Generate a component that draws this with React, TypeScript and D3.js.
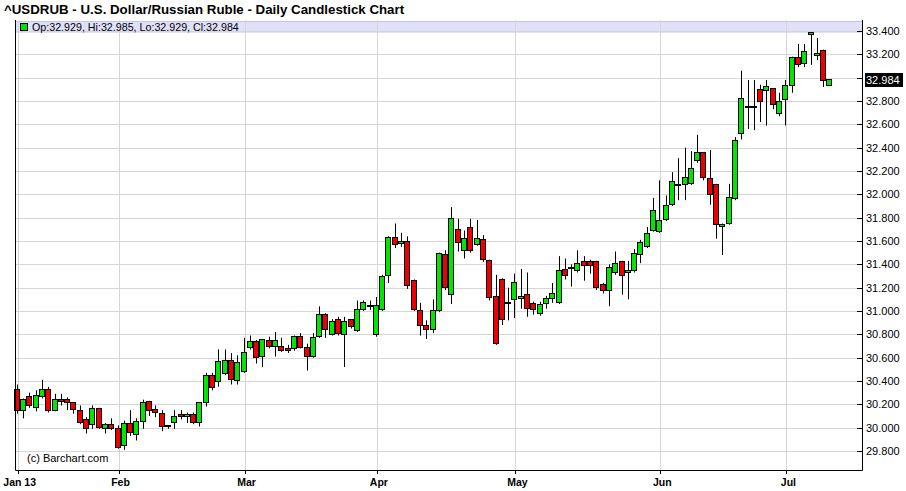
import React, { useEffect, useRef } from 'react'
import * as d3 from 'd3'

// daily OHLC, Jan 10 2013 .. Jul 10 2013 (trading days only)
const opens = [
  30.32, 30.15, 30.26, 30.17, 30.26, 30.32, 30.15, 30.24, 30.24, 30.21,
  30.14, 30.07, 30.02, 30.16, 29.99, 30.02, 29.99, 29.84, 30.03, 29.94,
  30.05, 30.22, 30.15, 30.12, 30.01, 30.04, 30.11, 30.09, 30.11, 30.04,
  30.21, 30.44, 30.39, 30.46, 30.57, 30.40, 30.48, 30.68, 30.73, 30.60,
  30.74, 30.69, 30.69, 30.67, 30.68, 30.78, 30.68, 30.61, 30.78, 30.97,
  30.80, 30.92, 30.80, 30.92, 30.83, 31.01, 31.04, 30.79, 31.01, 31.30,
  31.63, 31.57, 31.59, 31.26, 31.00, 30.87, 30.84, 31.00, 31.48, 31.14,
  31.69, 31.52, 31.71, 31.57, 31.61, 31.43, 31.12, 31.27, 31.06, 31.09,
  31.10, 31.14, 31.06, 30.97, 31.06, 31.11, 31.07, 31.35, 31.37, 31.34,
  31.42, 31.42, 31.42, 31.22, 31.17, 31.32, 31.42, 31.32, 31.34, 31.48,
  31.55, 31.69, 31.68, 31.78, 31.91, 32.07, 32.08, 32.09, 32.28, 32.35,
  32.13, 32.08, 31.72, 31.75, 31.96, 32.52, 32.75, 32.75, 32.89, 32.89,
  32.90, 32.69, 32.81, 32.93, 33.17, 33.12, 33.36, 33.18, 33.23, 32.929,
]
const highs = [
  30.37, 30.25, 30.30, 30.32, 30.41, 30.35, 30.29, 30.29, 30.26, 30.22,
  30.19, 30.09, 30.19, 30.17, 30.04, 30.08, 30.02, 30.06, 30.15, 30.08,
  30.24, 30.23, 30.19, 30.15, 30.02, 30.15, 30.15, 30.13, 30.13, 30.22,
  30.47, 30.47, 30.67, 30.67, 30.64, 30.62, 30.77, 30.79, 30.75, 30.76,
  30.78, 30.82, 30.77, 30.71, 30.79, 30.81, 30.72, 30.81, 31.04, 30.98,
  30.93, 30.95, 30.95, 30.93, 31.09, 31.09, 31.09, 31.12, 31.31, 31.64,
  31.75, 31.67, 31.64, 31.27, 31.07, 30.92, 31.10, 31.50, 31.52, 31.89,
  31.79, 31.69, 31.79, 31.78, 31.65, 31.44, 31.31, 31.28, 31.20, 31.32,
  31.36, 31.33, 31.08, 31.08, 31.13, 31.24, 31.47, 31.45, 31.40, 31.52,
  31.47, 31.44, 31.43, 31.24, 31.40, 31.51, 31.43, 31.43, 31.53, 31.61,
  31.72, 31.97, 32.12, 31.99, 32.19, 32.31, 32.40, 32.37, 32.51, 32.36,
  32.38, 32.09, 31.75, 32.09, 32.49, 33.06, 32.98, 32.98, 32.94, 32.98,
  32.91, 32.87, 32.98, 33.18, 33.29, 33.29, 33.39, 33.34, 33.24, 32.985,
]
const lows = [
  30.12, 30.08, 30.17, 30.14, 30.25, 30.13, 30.14, 30.19, 30.15, 30.12,
  30.03, 29.95, 29.99, 29.99, 29.95, 29.98, 29.82, 29.81, 29.93, 29.89,
  29.99, 30.10, 30.09, 29.97, 29.99, 29.99, 30.07, 30.04, 30.03, 30.01,
  30.18, 30.32, 30.35, 30.45, 30.37, 30.37, 30.47, 30.67, 30.55, 30.52,
  30.68, 30.61, 30.65, 30.64, 30.66, 30.68, 30.49, 30.60, 30.77, 30.77,
  30.79, 30.79, 30.52, 30.85, 30.82, 31.00, 31.01, 30.78, 31.00, 31.24,
  31.54, 31.55, 31.19, 31.00, 30.79, 30.76, 30.81, 30.99, 31.18, 31.06,
  31.51, 31.45, 31.50, 31.56, 31.42, 31.09, 30.71, 30.88, 30.92, 30.94,
  31.02, 30.95, 30.97, 30.96, 31.02, 31.07, 31.06, 31.27, 31.21, 31.33,
  31.26, 31.32, 31.18, 31.15, 31.04, 31.31, 31.14, 31.10, 31.33, 31.41,
  31.54, 31.68, 31.67, 31.77, 31.90, 31.95, 31.95, 32.08, 32.27, 32.12,
  31.91, 31.62, 31.48, 31.74, 31.95, 32.47, 32.56, 32.55, 32.62, 32.59,
  32.73, 32.67, 32.59, 32.87, 33.09, 33.09, 33.11, 33.15, 32.92, 32.929,
]
const closes = [
  30.14, 30.24, 30.18, 30.27, 30.32, 30.14, 30.24, 30.22, 30.21, 30.15,
  30.04, 29.99, 30.16, 30.00, 30.02, 29.99, 29.83, 30.03, 29.95, 30.05,
  30.21, 30.14, 30.12, 30.01, 30.005, 30.09, 30.09, 30.11, 30.04, 30.21,
  30.44, 30.34, 30.56, 30.57, 30.41, 30.55, 30.64, 30.73, 30.59, 30.75,
  30.69, 30.74, 30.66, 30.65, 30.78, 30.69, 30.60, 30.77, 30.97, 30.84,
  30.91, 30.80, 30.91, 30.86, 31.01, 31.07, 31.045, 31.04, 31.29, 31.63,
  31.57, 31.59, 31.21, 31.01, 30.87, 30.84, 31.00, 31.49, 31.20, 31.79,
  31.58, 31.62, 31.51, 31.62, 31.44, 31.11, 30.72, 30.93, 31.07, 31.24,
  31.12, 31.02, 31.01, 31.05, 31.10, 31.15, 31.34, 31.30, 31.372, 31.40,
  31.39, 31.39, 31.20, 31.17, 31.37, 31.40, 31.30, 31.34, 31.49, 31.58,
  31.66, 31.86, 31.77, 31.90, 32.11, 32.08, 32.14, 32.22, 32.35, 32.14,
  31.99, 31.74, 31.74, 31.97, 32.46, 32.82, 32.752, 32.752, 32.79, 32.92,
  32.76, 32.79, 32.93, 33.17, 33.11, 33.22, 33.38, 33.20, 32.97, 32.984,
]

const monthLabels = ['Jan 13', 'Feb', 'Mar', 'Apr', 'May', 'Jun', 'Jul']
const monthStarts = [0, 16, 36, 57, 79, 102, 122]
const priceTicks = [
  29.8, 30.0, 30.2, 30.4, 30.6, 30.8, 31.0, 31.2, 31.4, 31.6, 31.8, 32.0,
  32.2, 32.4, 32.6, 32.8, 33.0, 33.2, 33.4,
]

const title = '^USDRUB - U.S. Dollar/Russian Ruble - Daily Candlestick Chart'

const App: React.FC = () => {
  const chartRef = useRef<SVGSVGElement | null>(null)

  useEffect(() => {
    if (!chartRef.current) return
    const svg = d3.select(chartRef.current)
    svg.selectAll('*').remove()

    const width = 906
    const height = 491
    const plot = { left: 15, right: 862, top: 20, bottom: 470 }
    const font = "'Liberation Sans', Arial, sans-serif"
    const green = '#00e600'
    const red = '#ee0000'
    const n = closes.length

    const x = d3.scaleLinear().domain([-0.43, 134]).range([plot.left, plot.right])
    const y = d3.scaleLinear().domain([29.8, 33.4]).range([451, 31])
    const crisp = (v: number) => Math.round(v) + 0.5

    svg.attr('width', width).attr('height', height).style('font-family', font)
    svg.append('rect').attr('width', width).attr('height', height).attr('fill', '#fff')

    // title
    svg
      .append('text')
      .attr('x', 4)
      .attr('y', 14)
      .attr('font-size', 13.3)
      .attr('font-weight', 'bold')
      .text(title)

    // legend band
    svg
      .append('rect')
      .attr('x', plot.left)
      .attr('y', 21)
      .attr('width', plot.right - plot.left)
      .attr('height', 12)
      .attr('fill', '#e0e0fa')
    svg
      .append('line')
      .attr('x1', plot.left)
      .attr('x2', plot.right)
      .attr('y1', 21.5)
      .attr('y2', 21.5)
      .attr('stroke', '#c4c4ea')

    // grid
    const grid = svg.append('g').attr('stroke', '#d6d6d6').attr('stroke-width', 1)
    grid
      .selectAll('line.h')
      .data(priceTicks)
      .enter()
      .append('line')
      .attr('x1', plot.left)
      .attr('x2', plot.right)
      .attr('y1', (d) => crisp(y(d)))
      .attr('y2', (d) => crisp(y(d)))
    grid
      .selectAll('line.v')
      .data(monthStarts)
      .enter()
      .append('line')
      .attr('x1', (d) => crisp(x(d)))
      .attr('x2', (d) => crisp(x(d)))
      .attr('y1', plot.top)
      .attr('y2', plot.bottom)

    // legend text
    svg
      .append('rect')
      .attr('x', 20.5)
      .attr('y', 23.5)
      .attr('width', 7)
      .attr('height', 7)
      .attr('fill', '#00dd00')
      .attr('stroke', '#000')
    svg
      .append('text')
      .attr('x', 32)
      .attr('y', 31)
      .attr('font-size', 10.7)
      .text(
        `Op:${opens[n - 1].toFixed(3)}, Hi:${highs[n - 1].toFixed(3)}, Lo:${lows[n - 1].toFixed(3)}, Cl:${closes[n - 1].toFixed(3)}`,
      )

    // candles
    const idx = d3.range(n)
    const candles = svg.append('g')
    candles
      .selectAll('line.wick')
      .data(idx)
      .enter()
      .append('line')
      .attr('x1', (i) => Math.round(x(i)) - 0.5)
      .attr('x2', (i) => Math.round(x(i)) - 0.5)
      .attr('y1', (i) => y(highs[i]))
      .attr('y2', (i) => y(lows[i]))
      .attr('stroke', '#000')
    candles
      .selectAll('rect.body')
      .data(idx)
      .enter()
      .append('rect')
      .attr('x', (i) => Math.round(x(i)) - 3.5)
      .attr('y', (i) => crisp(y(Math.max(opens[i], closes[i]))) - 1)
      .attr('width', 5)
      .attr('height', (i) =>
        Math.max(1, Math.round(Math.abs(y(opens[i]) - y(closes[i])))),
      )
      .attr('fill', (i) => (closes[i] >= opens[i] ? green : red))
      .attr('stroke', '#000')
      .attr('stroke-width', 1)

    // frame
    const frame = svg.append('g').attr('stroke', '#000').attr('fill', 'none')
    frame
      .append('path')
      .attr(
        'd',
        `M${plot.left + 0.5},${plot.top}V${plot.bottom + 0.5}H${plot.right + 0.5}V${plot.top}`,
      )

    // right price axis
    const yAxis = svg.append('g')
    yAxis
      .selectAll('line')
      .data(priceTicks)
      .enter()
      .append('line')
      .attr('x1', plot.right - 5)
      .attr('x2', plot.right + 1)
      .attr('y1', (d) => crisp(y(d)))
      .attr('y2', (d) => crisp(y(d)))
      .attr('stroke', '#000')
    yAxis
      .selectAll('text')
      .data(priceTicks)
      .enter()
      .append('text')
      .attr('x', 866)
      .attr('y', (d) => y(d) + 4)
      .attr('font-size', 11)
      .text((d) => d.toFixed(3))

    // last price box
    const lastY = y(closes[n - 1])
    svg
      .append('rect')
      .attr('x', 865)
      .attr('y', Math.round(lastY) - 7)
      .attr('width', 38)
      .attr('height', 14)
      .attr('fill', '#000')
    svg
      .append('text')
      .attr('x', 866)
      .attr('y', lastY + 4)
      .attr('font-size', 11)
      .attr('fill', '#fff')
      .text(closes[n - 1].toFixed(3))

    // month axis
    const xAxis = svg.append('g')
    xAxis
      .selectAll('line')
      .data(monthStarts)
      .enter()
      .append('line')
      .attr('x1', (d) => crisp(x(d)))
      .attr('x2', (d) => crisp(x(d)))
      .attr('y1', plot.bottom)
      .attr('y2', plot.bottom + 4)
      .attr('stroke', '#000')
    xAxis
      .selectAll('text')
      .data(monthStarts)
      .enter()
      .append('text')
      .attr('x', (d) => x(d) + 2)
      .attr('y', 486)
      .attr('text-anchor', 'middle')
      .attr('font-size', 10.5)
      .attr('font-weight', 'bold')
      .text((_, i) => monthLabels[i])

    svg
      .append('text')
      .attr('x', 27)
      .attr('y', 462)
      .attr('font-size', 11)
      .text('(c) Barchart.com')
  }, [])

  return (
    <div style={{ position: 'absolute', left: 0, top: 0 }}>
      <svg ref={chartRef} width={906} height={491}></svg>
    </div>
  )
}

export default App
